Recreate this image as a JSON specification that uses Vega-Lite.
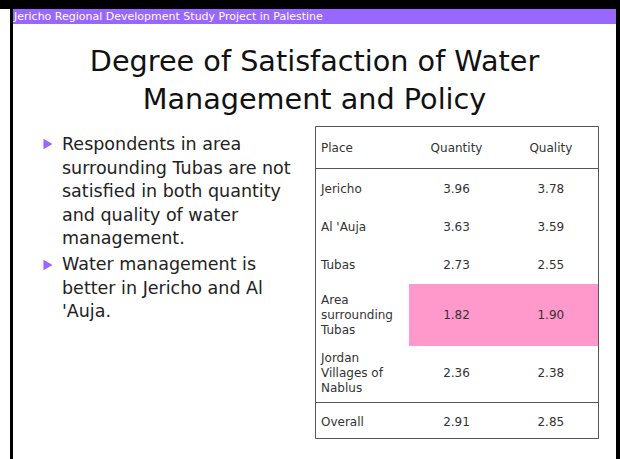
{
  "$schema": "https://vega.github.io/schema/vega-lite/v6.json",
  "background": "black",
  "padding": {"left": 0, "top": 9, "right": 4, "bottom": 0},
  "config": {"view": {"stroke": null}},
  "datasets": {
    "banner": [{"label": "Jericho Regional Development Study Project in Palestine"}],
    "title": [
      {"line": 1, "text": "Degree of Satisfaction of Water"},
      {"line": 2, "text": "Management and Policy"}
    ],
    "bullets": [
      {"bullet": 1, "text": "Respondents in area\nsurrounding Tubas are not\nsatisfied in both quantity\nand quality of water\nmanagement."},
      {"bullet": 2, "text": "Water management is\nbetter in Jericho and Al\n'Auja."}
    ],
    "header": [{"col": "Place"}, {"col": "Quantity"}, {"col": "Quality"}],
    "table": [
      {"row": 1, "Place": "Jericho", "Quantity": 3.96, "Quality": 3.78},
      {"row": 2, "Place": "Al 'Auja", "Quantity": 3.63, "Quality": 3.59},
      {"row": 3, "Place": "Tubas", "Quantity": 2.73, "Quality": 2.55},
      {"row": 4, "Place": "Area\nsurrounding\nTubas", "Quantity": 1.82, "Quality": 1.90},
      {"row": 5, "Place": "Jordan\nVillages of\nNablus", "Quantity": 2.36, "Quality": 2.38},
      {"row": 6, "Place": "Overall", "Quantity": 2.91, "Quality": 2.85}
    ]
  },
  "spacing": 3,
  "hconcat": [
    {
      "width": 10, "height": 450,
      "view": {"fill": "white", "stroke": null},
      "data": {"values": []},
      "mark": "point",
      "encoding": {}
    },
    {
      "spacing": 0,
      "vconcat": [
        {
          "width": 603, "height": 15,
          "view": {"fill": "#9966FF", "stroke": null},
          "data": {"name": "banner"},
          "mark": {"type": "text", "color": "white", "font": "DejaVu Sans", "fontSize": 11, "align": "left", "baseline": "middle"},
          "encoding": {
            "text": {"field": "label", "type": "nominal"},
            "x": {"field": "label", "type": "nominal", "axis": null, "scale": {"type": "point", "range": [1, 1]}}
          }
        },
        {
          "width": 603, "height": 435,
          "view": {"fill": "white", "stroke": null},
          "resolve": {"scale": {"x": "independent", "y": "independent"}},
          "layer": [
            {
              "data": {"name": "title"},
              "mark": {"type": "text", "font": "DejaVu Sans", "fontSize": 28.7, "color": "#111", "align": "center", "baseline": "middle"},
              "encoding": {
                "text": {"field": "text", "type": "nominal"},
                "y": {"field": "line", "type": "ordinal", "axis": null, "scale": {"type": "point", "domain": [1, 2], "range": [38, 76], "padding": 0}}
              }
            },
            {
              "data": {"name": "bullets"},
              "mark": {"type": "point", "shape": "triangle-right", "filled": true, "color": "#9966FF", "size": 110, "opacity": 1},
              "encoding": {
                "x": {"field": "bullet", "type": "ordinal", "axis": null, "scale": {"type": "point", "range": [35, 35]}},
                "y": {"field": "bullet", "type": "ordinal", "axis": null, "scale": {"type": "point", "domain": [1, 2], "range": [120, 241], "padding": 0}}
              }
            },
            {
              "data": {"name": "bullets"},
              "mark": {"type": "text", "font": "DejaVu Sans", "fontSize": 17.5, "color": "#222", "align": "left", "baseline": "top", "lineBreak": "\n", "lineHeight": 23.5},
              "encoding": {
                "text": {"field": "text", "type": "nominal"},
                "x": {"field": "bullet", "type": "ordinal", "axis": null, "scale": {"type": "point", "range": [49, 49]}},
                "y": {"field": "bullet", "type": "ordinal", "axis": null, "scale": {"type": "point", "domain": [1, 2], "range": [112, 232], "padding": 0}}
              }
            },
            {
              "data": {"name": "table"},
              "transform": [
                {"filter": "datum.Quantity < 2"},
                {"fold": ["Quantity", "Quality"], "as": ["col", "value"]}
              ],
              "mark": {"type": "tick", "orient": "horizontal", "size": 95, "thickness": 62, "color": "#FF99CC", "opacity": 1},
              "encoding": {
                "x": {"field": "col", "type": "nominal", "axis": null, "scale": {"type": "band", "domain": ["Place", "Quantity", "Quality"], "range": [302, 585], "paddingInner": 0, "paddingOuter": 0}},
                "y": {"field": "row", "type": "quantitative", "axis": null, "scale": {"type": "linear", "domain": [0, 1, 2, 3, 4, 5, 6], "range": [124, 165, 203, 241, 291, 349, 398], "nice": false, "zero": false}}
              }
            },
            {
              "data": {"values": [{"part": "table"}]},
              "mark": {"type": "rect", "filled": false, "color": "#555", "strokeWidth": 1},
              "encoding": {
                "x": {"field": "part", "type": "nominal", "axis": null, "scale": {"type": "band", "domain": ["table"], "range": [302.5, 585.5], "paddingInner": 0, "paddingOuter": 0}},
                "y": {"field": "part", "type": "nominal", "axis": null, "scale": {"type": "band", "domain": ["table"], "range": [102.5, 414.5], "paddingInner": 0, "paddingOuter": 0}}
              }
            },
            {
              "data": {"values": [{"sep": "header"}, {"sep": "total"}]},
              "mark": {"type": "tick", "orient": "horizontal", "size": 283, "thickness": 1, "color": "#555", "opacity": 1},
              "encoding": {
                "x": {"datum": "table", "type": "nominal", "axis": null, "scale": {"type": "band", "domain": ["table"], "range": [302, 585], "paddingInner": 0, "paddingOuter": 0}},
                "y": {"field": "sep", "type": "nominal", "axis": null, "scale": {"type": "point", "domain": ["header", "total"], "range": [144.5, 378.5], "padding": 0}}
              }
            },
            {
              "data": {"name": "header"},
              "transform": [{"filter": "datum.col == 'Place'"}],
              "mark": {"type": "text", "font": "DejaVu Sans", "fontSize": 12, "color": "#333", "align": "left", "baseline": "middle", "dx": 6},
              "encoding": {
                "text": {"field": "col", "type": "nominal"},
                "x": {"field": "col", "type": "nominal", "bandPosition": 0, "axis": null, "scale": {"type": "band", "domain": ["Place", "Quantity", "Quality"], "range": [302, 585], "paddingInner": 0, "paddingOuter": 0}},
                "y": {"datum": 0, "type": "quantitative", "axis": null, "scale": {"type": "linear", "domain": [0, 1, 2, 3, 4, 5, 6], "range": [124, 165, 203, 241, 291, 349, 398], "nice": false, "zero": false}}
              }
            },
            {
              "data": {"name": "header"},
              "transform": [{"filter": "datum.col != 'Place'"}],
              "mark": {"type": "text", "font": "DejaVu Sans", "fontSize": 12, "color": "#333", "align": "center", "baseline": "middle"},
              "encoding": {
                "text": {"field": "col", "type": "nominal"},
                "x": {"field": "col", "type": "nominal", "axis": null, "scale": {"type": "band", "domain": ["Place", "Quantity", "Quality"], "range": [302, 585], "paddingInner": 0, "paddingOuter": 0}},
                "y": {"datum": 0, "type": "quantitative", "axis": null, "scale": {"type": "linear", "domain": [0, 1, 2, 3, 4, 5, 6], "range": [124, 165, 203, 241, 291, 349, 398], "nice": false, "zero": false}}
              }
            },
            {
              "data": {"name": "table"},
              "transform": [{"fold": ["Place"], "as": ["col", "label"]}],
              "mark": {"type": "text", "font": "DejaVu Sans", "fontSize": 12, "color": "#333", "align": "left", "baseline": "middle", "dx": 6, "lineBreak": "\n", "lineHeight": 15},
              "encoding": {
                "text": {"field": "label", "type": "nominal"},
                "x": {"field": "col", "type": "nominal", "bandPosition": 0, "axis": null, "scale": {"type": "band", "domain": ["Place", "Quantity", "Quality"], "range": [302, 585], "paddingInner": 0, "paddingOuter": 0}},
                "y": {"field": "row", "type": "quantitative", "axis": null, "scale": {"type": "linear", "domain": [0, 1, 2, 3, 4, 5, 6], "range": [124, 165, 203, 241, 276, 334, 398], "nice": false, "zero": false}}
              }
            },
            {
              "data": {"name": "table"},
              "transform": [{"fold": ["Quantity", "Quality"], "as": ["col", "value"]}],
              "mark": {"type": "text", "font": "DejaVu Sans", "fontSize": 12, "color": "#333", "align": "center", "baseline": "middle"},
              "encoding": {
                "text": {"field": "value", "type": "quantitative", "format": ".2f"},
                "x": {"field": "col", "type": "nominal", "axis": null, "scale": {"type": "band", "domain": ["Place", "Quantity", "Quality"], "range": [302, 585], "paddingInner": 0, "paddingOuter": 0}},
                "y": {"field": "row", "type": "quantitative", "axis": null, "scale": {"type": "linear", "domain": [0, 1, 2, 3, 4, 5, 6], "range": [124, 165, 203, 241, 291, 349, 398], "nice": false, "zero": false}}
              }
            }
          ]
        }
      ]
    }
  ]
}
